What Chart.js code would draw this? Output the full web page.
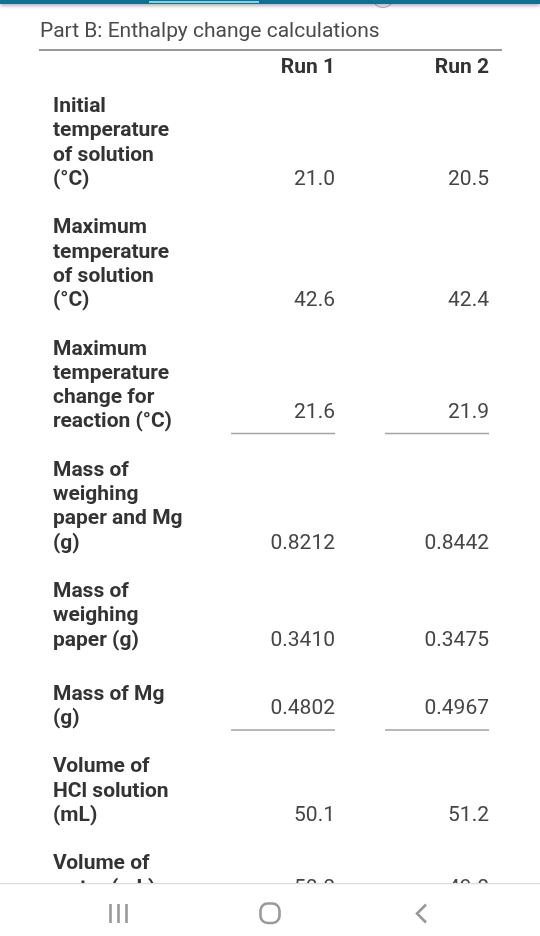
<!DOCTYPE html>
<html>
<head>
<meta charset="utf-8">
<title>Part B: Enthalpy change calculations</title>
<script src="https://cdn.jsdelivr.net/npm/chart.js@4"></script>
<style>
  html, body { margin: 0; padding: 0; background: #fff; }
  #wrap { position: relative; width: 540px; height: 936px; overflow: hidden; }
  #topbar { position: absolute; left: 0; top: 0; width: 540px; height: 4px; background: #0e7391;
            box-shadow: 0 1px 4px rgba(0,0,0,.45); }
  #tab { position: absolute; left: 149px; top: 1px; width: 110px; height: 2px; background: #7fd2ea; }
  #knob { position: absolute; left: 371px; top: -16px; width: 22px; height: 22px; border-radius: 50%;
          background: #fff; border: 1px solid #aaa; }
  #nav { position: absolute; left: 0; top: 883px; }
</style>
</head>
<body>
<div id="wrap">
  <canvas id="c" width="540" height="936"></canvas>
  <div id="knob"></div>
  <div id="topbar"><div id="tab"></div></div>
  <svg id="nav" width="540" height="53">
    <rect x="0" y="0" width="540" height="53" fill="#fff"/>
    <line x1="0" y1="0.5" x2="540" y2="0.5" stroke="#dcdcdc" stroke-width="1.5"/>
    <g stroke="#999" stroke-width="2.6" fill="none">
      <path d="M110.5 21V40M118.5 21V40M126.5 21V40"/>
      <rect x="260.5" y="20.5" width="19" height="19.5" rx="7"/>
      <path d="M426 21.5L417 30.5L426 39.5"/>
    </g>
  </svg>
</div>
<script>
// tieu de + cot
const title = "Part B: Enthalpy change calculations";
const columns = ["Run 1", "Run 2"];

// moi hang la 1 nhan nhieu dong
const rowLabels = [
  ["Initial", "temperature", "of solution", "(°C)"],
  ["Maximum", "temperature", "of solution", "(°C)"],
  ["Maximum", "temperature", "change for", "reaction (°C)"],
  ["Mass of", "weighing", "paper and Mg", "(g)"],
  ["Mass of", "weighing", "paper (g)"],
  ["Mass of Mg", "(g)"],
  ["Volume of", "HCl solution", "(mL)"],
  ["Volume of", "water (mL)"]
];
const run1Values = ["21.0", "42.6", "21.6", "0.8212", "0.3410", "0.4802", "50.1", "50.0"];
const run2Values = ["20.5", "42.4", "21.9", "0.8442", "0.3475", "0.4967", "51.2", "49.0"];
const underlined = [false, false, true, false, false, true, false, false];

const RAISE = 0.4;          // o co gach chan: so dao len khoi dong cuoi
const UNDER = 0.47;         // gach chan nam duoi dong cuoi
const CELL_W = 0.675;       // do dai gach chan, tinh theo cot
const TOP_LINE = 2.34;      // dong dau tien, tinh tu duong ke tren
const Y_MAX = 35.56;        // so dong chu hien tren truc y

// vi tri tung dong, don vi la "dong chu"
const textLines = [];
const lastLine = [];
let pos = TOP_LINE;
rowLabels.forEach((lines, r) => {
  lines.forEach(t => { textLines.push({ value: pos, text: t }); pos += 1; });
  lastLine[r] = pos - 1;
  pos += r === 4 ? 1.22 : 1; // hang "Mass of Mg" cach xa hon mot chut
});

const valuePoints = vals => vals.map((v, r) => ({ x: 0, y: lastLine[r] - (underlined[r] ? RAISE : 0), text: v }));
const underlinePoints = col => {
  const pts = [];
  underlined.forEach((u, r) => {
    if (!u) return;
    pts.push({ x: col - CELL_W, y: lastLine[r] + UNDER }, { x: col, y: lastLine[r] + UNDER }, { x: NaN, y: NaN });
  });
  return pts;
};

// ve chu cua o gia tri tai dung diem cua dataset
const cellText = {
  id: "cellText",
  afterDatasetsDraw(chart) {
    const ctx = chart.ctx;
    ctx.save();
    ctx.font = "21px Roboto";
    ctx.fillStyle = "#454545";
    ctx.textAlign = "right";
    ctx.textBaseline = "middle";
    chart.data.datasets.forEach((ds, i) => {
      if (!ds.isValues) return;
      chart.getDatasetMeta(i).data.forEach((el, k) => ctx.fillText(ds.data[k].text, el.x, el.y));
    });
    ctx.restore();
  }
};

new Chart(document.getElementById("c"), {
  type: "scatter",
  plugins: [cellText],
  data: {
    datasets: [
      ...[run1Values, run2Values].map((vals, c) => ({
        isValues: true,
        data: valuePoints(vals).map(p => ({ ...p, x: c + 1 })),
        pointRadius: 0
      })),
      ...columns.map((_, c) => ({
        data: underlinePoints(c + 1),
        showLine: true,
        spanGaps: false,
        borderColor: "#a3a3a3",
        borderWidth: 1.5,
        pointRadius: 0
      }))
    ]
  },
  options: {
    responsive: false,
    animation: false,
    layout: { padding: { left: 40, right: 39, top: 0, bottom: 0 } },
    plugins: {
      legend: { display: false },
      tooltip: { enabled: false },
      title: {
        display: true,
        text: title,
        align: "start",
        color: "#4a4a4a",
        font: { family: "Roboto", size: 21, weight: "400" },
        padding: { top: 19, bottom: 6 }
      }
    },
    scales: {
      x: {
        type: "linear",
        position: "top",
        min: 1 - 295 / 154,
        max: 2 + 12 / 154,
        grid: { display: false, drawTicks: false },
        border: { display: true, color: "#999", width: 2 },
        afterFit: s => { s.height = 0; },
        afterBuildTicks: s => { s.ticks = columns.map((_, c) => ({ value: c + 1 })); },
        ticks: {
          mirror: true,
          padding: 5,
          align: "end",
          maxRotation: 0,
          autoSkip: false,
          color: "#333",
          font: { family: "Roboto", size: 21, weight: "700" },
          callback: v => columns[v - 1]
        }
      },
      y: {
        type: "linear",
        reverse: true,
        min: 0,
        max: Y_MAX,
        grid: { display: false, drawTicks: false },
        border: { display: false },
        afterFit: s => { s.width = 0; },
        afterBuildTicks: s => { s.ticks = textLines.map(l => ({ value: l.value })); },
        ticks: {
          mirror: true,
          padding: 13,
          autoSkip: false,
          color: "#333",
          font: { family: "Roboto", size: 21, weight: "700", lineHeight: 1 },
          callback: v => (textLines.find(l => l.value === v) || {}).text
        }
      }
    }
  }
});
</script>
</body>
</html>
